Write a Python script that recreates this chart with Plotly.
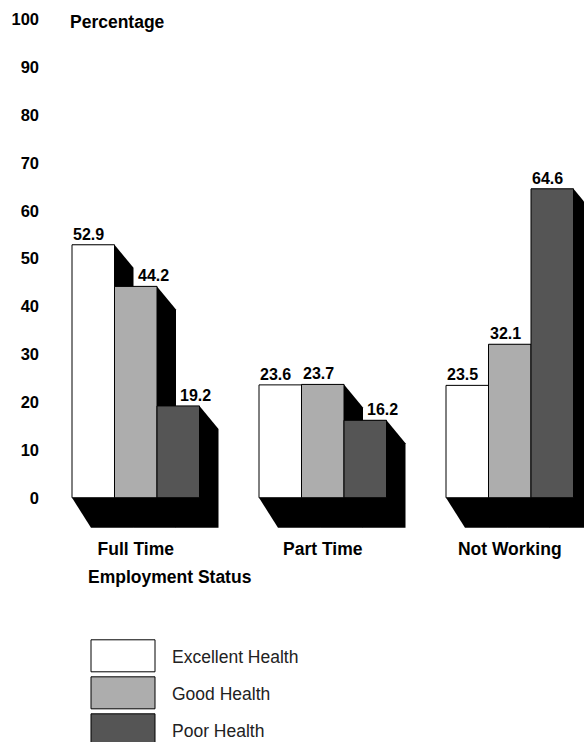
import plotly.graph_objects as go

# ---- data ---------------------------------------------------------------
categories = ["Full Time", "Part Time", "Not Working"]
series_names = ["Excellent Health", "Good Health", "Poor Health"]
excellent = [52.9, 23.6, 23.5]
good = [44.2, 23.7, 32.1]
poor = [19.2, 16.2, 64.6]
series_values = [excellent, good, poor]
y_ticks = [0, 10, 20, 30, 40, 50, 60, 70, 80, 90, 100]

# ---- styling ------------------------------------------------------------
fills = ["#ffffff", "#adadad", "#555555"]
FONT = "Liberation Sans, Arial, sans-serif"
W, H = 584, 742

# axis geometry (pixels per unit on each axis)
PX_PER_X = 187.0          # one category slot
PX_PER_Y = 4.78           # one percentage point
ZERO_PX = 498.0           # vertical pixel of y = 0
CAT0_PX = 135.75          # horizontal pixel of the first category centre
Y_MIN, Y_MAX = -8, 102
M_L = 50
M_T = ZERO_PX - Y_MAX * PX_PER_Y
PLOT_H = (Y_MAX - Y_MIN) * PX_PER_Y
M_B = H - M_T - PLOT_H
PLOT_W = W - M_L
X_MIN = (M_L - CAT0_PX) / PX_PER_X
X_MAX = (W - CAT0_PX) / PX_PER_X

BAR_W = 42.5 / PX_PER_X
# extrusion ("3-D shadow") offsets
SH_DX = 19 / PX_PER_X
SH_DY_TOP = 23 / PX_PER_Y
SH_DY_BOT = 30 / PX_PER_Y


def paper_x(px):
    return (px - M_L) / PLOT_W


def paper_y(py):
    return (M_T + PLOT_H - py) / PLOT_H


fig = go.Figure()
xs = list(range(len(categories)))

shapes = []
annotations = []

for i, (name, vals) in enumerate(zip(series_names, series_values)):
    offset = -1.5 * BAR_W + i * BAR_W
    fig.add_trace(go.Bar(
        x=xs, y=vals, name=name,
        width=BAR_W, offset=offset,
        marker=dict(color=fills[i], line=dict(color="#000000", width=1)),
        showlegend=False, hoverinfo="skip",
    ))
    for c, v in enumerate(vals):
        xl = c + offset
        xr = xl + BAR_W
        # black extrusion behind each bar
        path = (f"M {xl},0 L {xl},{v} L {xr},{v} "
                f"L {xr + SH_DX},{v - SH_DY_TOP} L {xr + SH_DX},{-SH_DY_BOT} "
                f"L {xl + SH_DX},{-SH_DY_BOT} Z")
        shapes.append(dict(type="path", path=path, xref="x", yref="y",
                           fillcolor="#000000", line=dict(width=0),
                           layer="below"))
        # value label; moved past the neighbour's extrusion when it is taller
        lx = xl
        if i > 0 and series_values[i - 1][c] > v:
            lx = xl + SH_DX + 3 / PX_PER_X
        annotations.append(dict(
            x=lx, y=v, xref="x", yref="y", text=f"{v:.1f}",
            xanchor="left", yanchor="bottom", showarrow=False, xshift=-1,
            font=dict(family=FONT, size=16, color="#000000", weight="bold")))

# axis titles
annotations.append(dict(
    x=paper_x(68), y=paper_y(22), xref="paper", yref="paper",
    text="Percentage", xanchor="left", yanchor="middle", showarrow=False,
    font=dict(family=FONT, size=17.5, color="#000000", weight="bold")))
annotations.append(dict(
    x=paper_x(86), y=paper_y(577), xref="paper", yref="paper",
    text="Employment Status", xanchor="left", yanchor="middle",
    showarrow=False,
    font=dict(family=FONT, size=17.5, color="#000000", weight="bold")))

# legend: large swatches with labels
box_tops = [640, 677, 714]
for i, name in enumerate(series_names):
    top = box_tops[i]
    shapes.append(dict(type="rect", xref="paper", yref="paper",
                       x0=paper_x(91), x1=paper_x(155),
                       y0=paper_y(top), y1=paper_y(top + 32),
                       fillcolor=fills[i],
                       line=dict(color="#000000", width=1)))
    annotations.append(dict(
        x=paper_x(170), y=paper_y(top + 17), xref="paper", yref="paper",
        text=name, xanchor="left", yanchor="middle", showarrow=False,
        font=dict(family=FONT, size=17.5, color="#222222")))

fig.update_layout(
    width=W, height=H,
    margin=dict(l=M_L, r=0, t=M_T, b=M_B, autoexpand=False),
    paper_bgcolor="#ffffff", plot_bgcolor="#ffffff",
    barmode="overlay",
    shapes=shapes, annotations=annotations,
    xaxis=dict(range=[X_MIN, X_MAX], tickvals=xs, ticktext=categories,
               showgrid=False, zeroline=False, showline=False, ticks="",
               automargin=False,
               tickfont=dict(family=FONT, size=17.5, color="#000000",
                             weight="bold")),
    yaxis=dict(range=[Y_MIN, Y_MAX], tickvals=y_ticks,
               showgrid=False, zeroline=False, showline=False, ticks="",
               automargin=False, ticklabelstandoff=10,
               tickfont=dict(family=FONT, size=16.5, color="#000000",
                             weight="bold")),
)

fig.write_html("out.html")
